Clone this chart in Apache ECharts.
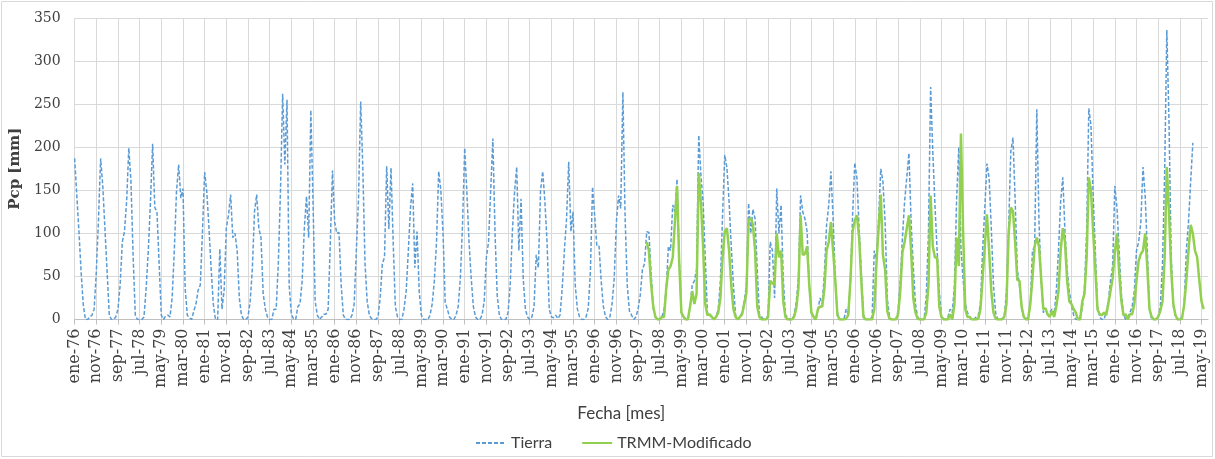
<!DOCTYPE html>
<html>
<head>
<meta charset="utf-8">
<script src="https://cdn.jsdelivr.net/npm/echarts@6/dist/echarts.min.js"></script>
<style>
  html, body { margin: 0; padding: 0; background: #ffffff; }
  #chart { width: 1215px; height: 459px; }
</style>
</head>
<body>
<div id="chart"></div>
<script>
// Month abbreviations and the span of the monthly time axis (ene-76 .. ago-19)
const monthNames = ['ene', 'feb', 'mar', 'abr', 'may', 'jun', 'jul', 'ago', 'sep', 'oct', 'nov', 'dic'];
const firstYear = 1976;
const monthCount = 524;

// Ground-station monthly precipitation [mm], one row per year (Jan..Dec)
const tierra = [
  187, 144, 102, 55, 17, 0, 0, 3, 5, 12, 55, 115,      // 1976
  187, 155, 105, 55, 5, 0, 0, 3, 12, 40, 90, 102,      // 1977
  137, 199, 160, 73, 5, 0, 0, 0, 3, 36, 80, 137,       // 1978
  204, 130, 125, 65, 5, 0, 4, 5, 3, 25, 80, 148,       // 1979
  180, 141, 152, 36, 5, 2, 0, 10, 18, 34, 40, 102,     // 1980
  171, 148, 106, 59, 18, 0, 0, 82, 12, 34, 106, 121,   // 1981
  145, 95, 100, 80, 25, 5, 0, 0, 3, 21, 58, 125,       // 1982
  145, 106, 95, 30, 12, 3, 0, 0, 12, 12, 65, 150,      // 1983
  262, 180, 255, 40, 6, 1, 0, 15, 18, 45, 106, 143,    // 1984
  95, 243, 137, 21, 5, 0, 3, 6, 6, 12, 90, 173,        // 1985
  113, 100, 101, 40, 5, 0, 0, 0, 5, 18, 80, 140,       // 1986
  253, 175, 65, 21, 5, 1, 0, 0, 3, 25, 65, 72,         // 1987
  178, 105, 176, 90, 15, 3, 0, 0, 12, 33, 80, 130,     // 1988
  158, 60, 102, 33, 5, 0, 0, 0, 5, 18, 45, 90,         // 1989
  172, 150, 100, 20, 12, 3, 0, 0, 5, 15, 48, 110,      // 1990
  199, 148, 90, 48, 15, 3, 0, 0, 5, 21, 72, 90,        // 1991
  150, 210, 100, 28, 5, 0, 0, 0, 8, 40, 102, 148,      // 1992
  177, 80, 140, 48, 12, 3, 0, 3, 15, 75, 60, 150,      // 1993
  172, 137, 90, 12, 3, 2, 5, 1, 5, 36, 80, 117,        // 1994
  183, 102, 125, 40, 12, 3, 0, 0, 3, 13, 55, 154,      // 1995
  120, 85, 85, 44, 15, 3, 0, 3, 18, 48, 113, 144,      // 1996
  129, 264, 121, 40, 10, 5, 0, 3, 12, 28, 58, 65,      // 1997
  102, 101, 55, 13, 3, 1, 0, 3, 12, 36, 85, 80,        // 1998
  133, 125, 163, 70, 8, 3, 0, 0, 15, 40, 45, 58,       // 1999
  214, 168, 137, 72, 8, 5, 3, 0, 3, 12, 45, 121,       // 2000
  191, 176, 137, 85, 40, 5, 0, 3, 8, 21, 40, 135,      // 2001
  100, 128, 117, 58, 6, 3, 0, 0, 5, 90, 80, 25,        // 2002
  152, 100, 133, 48, 5, 3, 0, 0, 5, 20, 48, 144,       // 2003
  125, 117, 102, 40, 8, 3, 0, 12, 25, 18, 55, 110,     // 2004
  133, 172, 117, 48, 8, 0, 0, 0, 12, 6, 45, 121,       // 2005
  182, 164, 106, 55, 5, 0, 0, 0, 3, 80, 70, 117,       // 2006
  175, 160, 113, 25, 3, 0, 0, 0, 10, 45, 95, 137,      // 2007
  165, 193, 113, 62, 18, 3, 0, 0, 0, 28, 100, 270,     // 2008
  195, 133, 80, 33, 3, 1, 0, 3, 12, 8, 40, 140,        // 2009
  200, 82, 46, 18, 8, 3, 0, 0, 3, 5, 18, 80,           // 2010
  129, 181, 164, 106, 40, 8, 0, 0, 1, 3, 33, 106,      // 2011
  195, 211, 140, 58, 40, 12, 3, 0, 3, 18, 80, 85,      // 2012
  244, 115, 45, 8, 13, 5, 8, 12, 6, 33, 80, 137,       // 2013
  165, 102, 58, 33, 17, 5, 0, 0, 3, 13, 36, 102,       // 2014
  245, 225, 144, 80, 15, 3, 0, 0, 8, 21, 45, 62,       // 2015
  155, 130, 80, 30, 6, 0, 3, 8, 15, 33, 80, 90,        // 2016
  113, 177, 144, 80, 12, 0, 0, 0, 3, 15, 65, 170,      // 2017
  336, 230, 75, 15, 3, 0, 0, 3, 18, 80, 113, 160,      // 2018
  205                                                  // 2019
];

// Corrected TRMM satellite estimate [mm], starting ene-98
const trmmStartYear = 1998;
const trmm = [
  90, 80, 42, 15, 3, 0, 0, 3, 3, 36, 58, 62,           // 1998
  72, 113, 155, 65, 8, 3, 0, 0, 15, 33, 18, 30,        // 1999
  170, 137, 85, 18, 5, 6, 3, 0, 3, 8, 25, 72,          // 2000
  102, 106, 80, 40, 12, 3, 0, 3, 6, 18, 31, 115,       // 2001
  118, 110, 80, 15, 3, 0, 0, 0, 3, 45, 42, 40,         // 2002
  100, 72, 80, 21, 3, 0, 0, 0, 3, 13, 36, 121,         // 2003
  75, 76, 85, 40, 8, 3, 0, 12, 15, 15, 36, 80,         // 2004
  90, 113, 80, 45, 5, 0, 0, 0, 1, 5, 45, 102,          // 2005
  115, 121, 95, 45, 3, 0, 0, 0, 0, 12, 65, 106,        // 2006
  145, 75, 58, 10, 1, 0, 0, 0, 6, 33, 78, 90,          // 2007
  106, 121, 80, 25, 8, 1, 0, 0, 0, 8, 40, 144,         // 2008
  85, 72, 72, 15, 3, 0, 0, 0, 6, 0, 18, 95,            // 2009
  62, 216, 102, 12, 3, 3, 0, 0, 0, 1, 12, 48,          // 2010
  85, 122, 80, 33, 8, 1, 0, 0, 0, 3, 18, 100,          // 2011
  130, 126, 90, 46, 45, 15, 3, 0, 0, 18, 48, 85,       // 2012
  95, 85, 48, 12, 13, 6, 3, 10, 3, 15, 33, 80,         // 2013
  106, 90, 45, 21, 18, 12, 8, 0, 0, 21, 30, 72,        // 2014
  165, 150, 102, 58, 12, 6, 5, 8, 5, 18, 33, 48,       // 2015
  78, 100, 55, 22, 5, 6, 0, 6, 6, 18, 45, 68,          // 2016
  76, 80, 100, 60, 12, 3, 0, 0, 3, 10, 21, 72,         // 2017
  177, 125, 58, 18, 5, 0, 0, 1, 17, 45, 80, 110,       // 2018
  100, 80, 72, 45, 21, 12                              // 2019
];

// Axis labels "ene-76", "feb-76", ...
const categories = [];
for (let i = 0; i < monthCount; i++) {
  const yr = firstYear + Math.floor(i / 12);
  categories.push(monthNames[i % 12] + '-' + String(yr % 100).padStart(2, '0'));
}

// Place each series on the full monthly axis
const tierraData = categories.map((_, i) => (i < tierra.length ? tierra[i] : null));
const trmmOffset = (trmmStartYear - firstYear) * 12;
const trmmData = categories.map((_, i) => {
  const k = i - trmmOffset;
  return k >= 0 && k < trmm.length ? trmm[k] : null;
});

const serif = 'DejaVu Serif';
const sans = 'Lato';

const chart = echarts.init(document.getElementById('chart'), null, { renderer: 'canvas' });
chart.setOption({
  animation: false,
  backgroundColor: '#ffffff',
  grid: { left: 73, right: 7, top: 18, bottom: 139.5, containLabel: false },
  graphic: [{
    type: 'rect',
    shape: { x: 1.5, y: 1.5, width: 1211, height: 455 },
    style: { fill: 'none', stroke: '#d9d9d9', lineWidth: 1 },
    silent: true
  }],
  legend: {
    bottom: 3,
    left: 470,
    itemWidth: 30,
    itemHeight: 10,
    itemGap: 29,
    itemStyle: { opacity: 0 },
    textStyle: { fontFamily: sans, fontSize: 16, color: '#404040' },
    data: ['Tierra', 'TRMM-Modificado']
  },
  xAxis: {
    type: 'category',
    data: categories,
    boundaryGap: false,
    name: 'Fecha [mes]',
    nameLocation: 'middle',
    nameGap: 86,
    nameTextStyle: { fontFamily: sans, fontSize: 17, color: '#404040', padding: [0, 40, 0, 0] },
    axisLine: { lineStyle: { color: '#bfbfbf', width: 1 } },
    axisTick: { show: true, interval: 9, length: 5, lineStyle: { color: '#bfbfbf' } },
    axisLabel: {
      interval: 9,
      rotate: 90,
      margin: 9,
      fontFamily: serif,
      fontSize: 16,
      color: '#404040'
    },
    splitLine: { show: true, interval: 9, lineStyle: { color: '#d9d9d9', width: 1 } }
  },
  yAxis: {
    type: 'value',
    min: 0,
    max: 350,
    interval: 50,
    name: 'Pcp [mm]',
    nameLocation: 'middle',
    nameGap: 37,
    nameRotate: 90,
    nameTextStyle: { fontFamily: serif, fontSize: 15, fontWeight: 'bold', color: '#404040' },
    axisLine: { show: false },
    axisTick: { show: false },
    axisLabel: { fontFamily: serif, fontSize: 14, color: '#404040', margin: 14 },
    splitLine: { show: true, lineStyle: { color: '#d9d9d9', width: 1 } }
  },
  series: [
    {
      name: 'Tierra',
      type: 'line',
      data: tierraData,
      symbol: 'none',
      connectNulls: false,
      lineStyle: { color: '#5B9BD5', width: 1.5, type: [4, 2] },
      itemStyle: { color: '#5B9BD5' },
      z: 2
    },
    {
      name: 'TRMM-Modificado',
      type: 'line',
      data: trmmData,
      symbol: 'none',
      connectNulls: false,
      lineStyle: { color: '#92D050', width: 2.5 },
      itemStyle: { color: '#92D050' },
      z: 3
    }
  ]
});
</script>
</body>
</html>
